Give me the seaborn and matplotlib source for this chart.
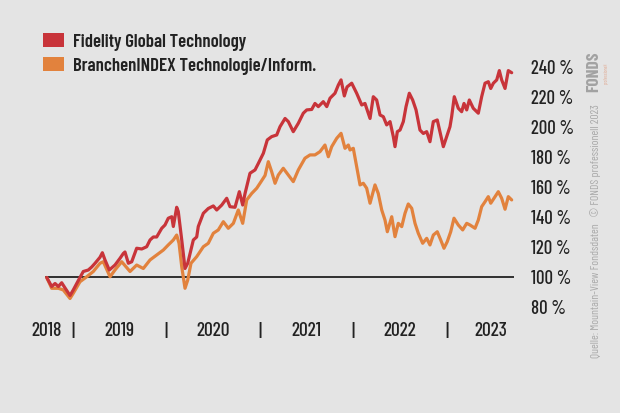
import numpy as np
import pandas as pd
import matplotlib
matplotlib.use("Agg")
import matplotlib.pyplot as plt
from matplotlib.patches import Patch
import seaborn as sns

# ---------------- data (time as decimal years, values in % of start) ----------------
fund_label = "Fidelity Global Technology"
index_label = "BranchenINDEX Technologie/Inform."

fund_t = [2018.722, 2018.775, 2018.811, 2018.846, 2018.882, 2018.918, 2018.971, 2019.006,
          2019.060, 2019.113, 2019.167, 2019.203, 2019.239, 2019.292, 2019.317, 2019.345,
          2019.391, 2019.452, 2019.506, 2019.541, 2019.559, 2019.595, 2019.631, 2019.684,
          2019.738, 2019.791, 2019.827, 2019.862, 2019.898, 2019.952, 2019.987, 2020.022,
          2020.059, 2020.076, 2020.112, 2020.129, 2020.166, 2020.201, 2020.230, 2020.255,
          2020.290, 2020.326, 2020.343, 2020.397, 2020.450, 2020.504, 2020.540, 2020.594,
          2020.647, 2020.682, 2020.736, 2020.782, 2020.818, 2020.843, 2020.896, 2020.950,
          2020.985, 2021.039, 2021.081, 2021.128, 2021.182, 2021.217, 2021.271, 2021.306,
          2021.359, 2021.413, 2021.466, 2021.503, 2021.556, 2021.591, 2021.627, 2021.680,
          2021.717, 2021.752, 2021.805, 2021.841, 2021.870, 2021.905, 2021.934, 2021.984,
          2022.037, 2022.091, 2022.126, 2022.161, 2022.180, 2022.215, 2022.251, 2022.287,
          2022.322, 2022.358, 2022.394, 2022.429, 2022.447, 2022.472, 2022.501, 2022.536,
          2022.565, 2022.600, 2022.636, 2022.672, 2022.714, 2022.750, 2022.786, 2022.821,
          2022.857, 2022.899, 2022.928, 2022.964, 2023.000, 2023.035, 2023.053, 2023.081,
          2023.124, 2023.160, 2023.185, 2023.214, 2023.242, 2023.284, 2023.338, 2023.374,
          2023.410, 2023.445, 2023.471, 2023.499, 2023.535, 2023.563, 2023.588, 2023.624,
          2023.648, 2023.659, 2023.695]
fund_v = [100, 94, 96, 94, 96.5, 93, 88, 91.7,
          98, 104, 105, 107, 109.5, 113.5, 116.5, 111.7,
          105, 108.3, 112.8, 116, 117, 109.5, 110.5, 119.5,
          119, 120.5, 125, 127, 127, 132.8, 135, 139.5,
          140.5, 134, 146.8, 144, 125, 106, 109.5, 116,
          125, 127, 134, 142.8, 146, 147.7, 145, 148.3,
          152.8, 147.2, 146.8, 157.2, 148.3, 156, 169.5, 171.7,
          176, 182.8, 191.7, 193.9, 195, 200.5, 206, 203.9,
          197.2, 202.8, 209.5, 211.7, 212, 216, 213.9, 217.2,
          213.9, 219.5, 222.8, 228.3, 231.7, 221, 227, 229.5,
          222.8, 215, 216, 209.5, 206, 220.5, 218.3, 208.3,
          207.2, 201.7, 203.9, 193.9, 187.2, 197.2, 198.3, 203.9,
          213.9, 222.8, 218.3, 211.7, 198.3, 196, 197.2, 190.5,
          203.9, 205, 197.2, 187.2, 193.9, 200.5, 207.2, 220.5,
          212.8, 210.5, 216, 211.7, 218.3, 212.8, 209.5, 220.5,
          229.5, 230.5, 226, 229.5, 231.7, 237.9, 231.7, 226,
          233.9, 237.9, 236.5]

index_t = [2018.722, 2018.775, 2018.846, 2018.899, 2018.971, 2019.006, 2019.078, 2019.150,
           2019.220, 2019.292, 2019.327, 2019.399, 2019.452, 2019.524, 2019.613, 2019.684,
           2019.755, 2019.827, 2019.898, 2019.969, 2020.022, 2020.076, 2020.112, 2020.137,
           2020.166, 2020.201, 2020.230, 2020.265, 2020.326, 2020.397, 2020.450, 2020.504,
           2020.557, 2020.611, 2020.664, 2020.718, 2020.771, 2020.818, 2020.861, 2020.914,
           2020.968, 2021.003, 2021.057, 2021.092, 2021.128, 2021.164, 2021.199, 2021.252,
           2021.306, 2021.359, 2021.413, 2021.484, 2021.538, 2021.591, 2021.645, 2021.698,
           2021.734, 2021.770, 2021.824, 2021.870, 2021.912, 2021.948, 2021.966, 2022.001,
           2022.037, 2022.073, 2022.108, 2022.144, 2022.180, 2022.233, 2022.268, 2022.305,
           2022.340, 2022.365, 2022.412, 2022.447, 2022.482, 2022.519, 2022.554, 2022.589,
           2022.626, 2022.661, 2022.696, 2022.743, 2022.786, 2022.821, 2022.857, 2022.899,
           2022.936, 2022.971, 2023.006, 2023.043, 2023.078, 2023.124, 2023.171, 2023.214,
           2023.249, 2023.303, 2023.338, 2023.374, 2023.410, 2023.445, 2023.471, 2023.506,
           2023.552, 2023.588, 2023.624, 2023.659, 2023.695]
index_v = [100, 92.8, 92.8, 91.7, 86, 89.5, 97.2, 100.5,
           104, 109.5, 110.5, 100.5, 105, 110.5, 104, 108.3,
           106, 111.7, 115, 118.3, 121.7, 125, 128.3, 122.8,
           107.2, 92.8, 98.3, 109.5, 113.9, 120.5, 122.8, 129.5,
           131.7, 137.2, 132.8, 136.1, 145, 136.1, 151.7, 156,
           159.5, 162.8, 168, 177.2, 170.5, 162.8, 168.3, 172.8,
           168.3, 163.9, 171.7, 179.5, 181.7, 181.7, 183.9, 188.3,
           180.5, 187.2, 192.8, 196.1, 186.1, 188.3, 185, 186.1,
           173.9, 161.7, 162.8, 159.5, 149.5, 161.7, 156, 145,
           138.3, 130.5, 140.5, 127.2, 136.1, 133.9, 142.8, 149,
           146.1, 136.1, 129.5, 122.8, 126.1, 121.7, 128.3, 130.5,
           125, 119.5, 123.9, 130.5, 139.5, 135, 131.7, 136.1,
           135, 132.8, 138.3, 147.2, 150.5, 153.9, 149.5, 152.8,
           157.2, 152.8, 145.5, 153.9, 151.7]

year_labels = ["2018", "2019", "2020", "2021", "2022", "2023"]
year_label_pos = [2018.722, 2019.5, 2020.5, 2021.5, 2022.5, 2023.47]
year_bounds = [2019, 2020, 2021, 2022, 2023]
y_ticks = [80, 100, 120, 140, 160, 180, 200, 220, 240]

# ---------------- style ----------------
BG = "#e4e4e4"
RED = "#c8343a"
ORANGE = "#e2823d"
TXT = "#222222"

sns.set_theme(style="white")
plt.rcParams["font.family"] = ["Barlow Condensed", "DejaVu Sans"]
plt.rcParams["font.weight"] = "medium"

df = pd.concat([
    pd.DataFrame({"t": index_t, "v": index_v, "series": index_label}),
    pd.DataFrame({"t": fund_t, "v": fund_v, "series": fund_label}),
])

fig = plt.figure(figsize=(6.2, 4.13), dpi=100, facecolor=BG)
ax = fig.add_axes([40 / 620, 1 - 315 / 413, 480 / 620, 260 / 413])
ax.set_facecolor(BG)

sns.lineplot(data=df, x="t", y="v", hue="series",
             hue_order=[index_label, fund_label],
             palette={fund_label: RED, index_label: ORANGE},
             linewidth=2.3, legend=False, ax=ax, sort=False)

ax.hlines(100, fund_t[0] - 0.02, 2023.72, color="#111111", linewidth=1.2, zorder=1)

ax.set_xlim(2018.650, 2023.784)
ax.set_ylim(75, 248.3)
for s in ax.spines.values():
    s.set_visible(False)
ax.set_xlabel("")
ax.set_ylabel("")

ax.yaxis.tick_right()
ax.set_yticks(y_ticks)
ax.set_yticklabels([f"{v} %" for v in y_ticks])
ax.tick_params(axis="y", length=0, pad=8, labelsize=13.5, labelcolor=TXT)

ax.set_xticks(year_bounds)
ax.set_xticklabels(["|"] * len(year_bounds))
ax.set_xticks(year_label_pos, minor=True)
ax.set_xticklabels(year_labels, minor=True)
ax.tick_params(axis="x", which="both", length=0, pad=5, labelsize=14, labelcolor=TXT)
ax.grid(False)

handles = [Patch(facecolor=RED, edgecolor="none", label=fund_label),
           Patch(facecolor=ORANGE, edgecolor="none", label=index_label)]
leg = fig.legend(handles=handles, loc="upper left",
                 bbox_to_anchor=(43 / 620, 1 - 33 / 413),
                 frameon=False, fontsize=13.5, handlelength=1.1, handleheight=0.8,
                 handletextpad=0.5, labelspacing=0.33, borderaxespad=0, borderpad=0)
for t in leg.get_texts():
    t.set_color(TXT)
    t.set_fontweight("semibold")

fig.text(596 / 620, 1 - 358 / 413,
         "Quelle: Mountain-View Fondsdaten   \u00a9 FONDS professionell 2023",
         rotation=90, ha="center", va="bottom", fontsize=8.3, fontweight="normal",
         color="#a8a8a8")
fig.text(594 / 620, 1 - 92 / 413, "FONDS", rotation=90, ha="center", va="bottom",
         fontsize=12.5, fontweight="bold", color="#a2a2a2")
fig.text(606 / 620, 1 - 84 / 413, "professionell", rotation=90, ha="center",
         va="bottom", fontsize=3.5, fontweight="normal", color="#e0a890")

fig.savefig("out.png", dpi=100, facecolor=BG)
